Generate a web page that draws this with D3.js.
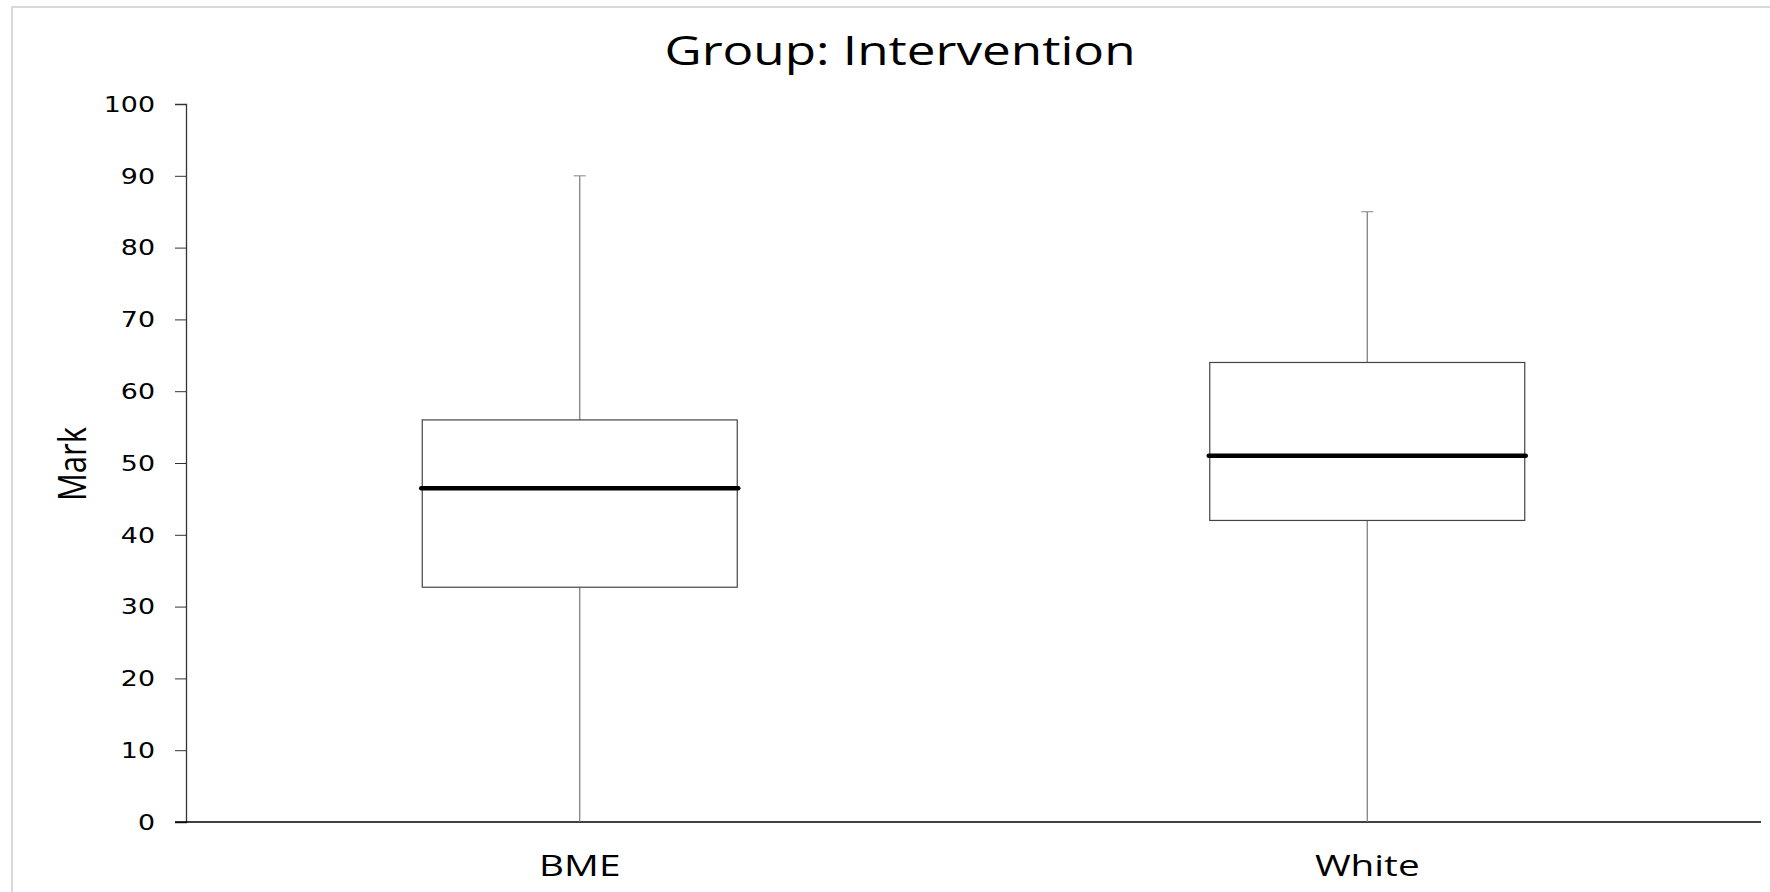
<!DOCTYPE html>
<html>
<head>
<meta charset="utf-8">
<script src="https://cdn.jsdelivr.net/npm/d3@7"></script>
<style>
  html, body { margin: 0; padding: 0; background: #fff; overflow: hidden; }
  svg { display: block; }
</style>
</head>
<body>
<script>
// Box-plot summary per group
const categories = ["BME", "White"];
const minValues = [0, 0];
const q1Values = [32.7, 42];
const medianValues = [46.5, 51];
const q3Values = [56, 64];
const maxValues = [90, 85];
const yTicks = [0, 10, 20, 30, 40, 50, 60, 70, 80, 90, 100];

const W = 1770, H = 892;
const svg = d3.select("body").append("svg").attr("width", W).attr("height", H);

// widen text horizontally (the chart's lettering is drawn wide)
function widen(sel, k) {
  sel.each(function () {
    const len = this.getComputedTextLength();
    d3.select(this).attr("textLength", len * k).attr("lengthAdjust", "spacingAndGlyphs");
  });
}

// outer chart frame
svg.append("rect")
  .attr("x", 12).attr("y", 7).attr("width", W + 20).attr("height", H + 20)
  .attr("fill", "#fff").attr("stroke", "#d9d9d9").attr("stroke-width", 2);

const plotLeft = 186, plotRight = 1761, plotTop = 104, plotBottom = 822;

const x = d3.scaleBand().domain(categories).range([plotLeft, plotRight]);
const y = d3.scaleLinear().domain([0, 100]).range([plotBottom, plotTop]);

// title
const title = svg.append("text")
  .attr("x", 900).attr("y", 65)
  .attr("text-anchor", "middle")
  .style("font-family", "'Open Sans', 'Liberation Sans', sans-serif")
  .style("font-size", "40px")
  .attr("fill", "#000")
  .text("Group: Intervention");
widen(title, 1.28);

// y axis
const yAxis = svg.append("g")
  .attr("transform", `translate(${plotLeft},0)`)
  .call(d3.axisLeft(y).tickValues(yTicks).tickSize(11).tickPadding(20));
yAxis.select(".domain").attr("stroke", "#333").attr("stroke-width", 1.3);
yAxis.selectAll(".tick line").attr("stroke", "#333");
yAxis.selectAll(".tick text")
  .style("font-family", "'DejaVu Sans', Verdana, sans-serif")
  .style("font-size", "20.5px")
  .attr("dy", "0.36em")
  .attr("fill", "#000");
widen(yAxis.selectAll(".tick text"), 1.31);

// x axis
const xAxis = svg.append("g")
  .attr("transform", `translate(0,${plotBottom})`)
  .call(d3.axisBottom(x).tickSize(0).tickPadding(33));
xAxis.select(".domain").attr("stroke", "#000").attr("stroke-width", 1.3)
  .attr("d", `M${plotLeft - 11},0H${plotRight}`);
xAxis.selectAll(".tick text")
  .style("font-family", "'Open Sans', 'Liberation Sans', sans-serif")
  .style("font-size", "30px")
  .attr("fill", "#000");
widen(xAxis.selectAll(".tick text"), 1.29);

// y axis title
svg.append("text")
  .attr("transform", `translate(86,${(plotTop + plotBottom) / 2 + 1}) scale(1.25,1) rotate(-90)`)
  .attr("text-anchor", "middle")
  .style("font-family", "'Open Sans', 'Liberation Sans', sans-serif")
  .style("font-size", "31px")
  .attr("fill", "#000")
  .text("Mark");

// boxes
const boxW = 315, capW = 12;
const data = categories.map((c, i) => ({
  c, min: minValues[i], q1: q1Values[i], med: medianValues[i], q3: q3Values[i], max: maxValues[i]
}));
const g = svg.append("g");
data.forEach(d => {
  const cx = x(d.c) + x.bandwidth() / 2;
  // whiskers
  g.append("line").attr("x1", cx).attr("x2", cx).attr("y1", y(d.max)).attr("y2", y(d.q3))
    .attr("stroke", "#777").attr("stroke-width", 1.2);
  g.append("line").attr("x1", cx).attr("x2", cx).attr("y1", y(d.q1)).attr("y2", y(d.min))
    .attr("stroke", "#777").attr("stroke-width", 1.2);
  g.append("line").attr("x1", cx - capW / 2).attr("x2", cx + capW / 2).attr("y1", y(d.max)).attr("y2", y(d.max))
    .attr("stroke", "#999").attr("stroke-width", 1.2);
  // box
  g.append("rect")
    .attr("x", cx - boxW / 2).attr("width", boxW)
    .attr("y", y(d.q3)).attr("height", y(d.q1) - y(d.q3))
    .attr("fill", "#fff").attr("stroke", "#444").attr("stroke-width", 1.2);
  // median
  g.append("line")
    .attr("x1", cx - boxW / 2 - 1).attr("x2", cx + boxW / 2 + 1)
    .attr("y1", y(d.med)).attr("y2", y(d.med))
    .attr("stroke", "#000").attr("stroke-width", 4.5).attr("stroke-linecap", "round");
});
</script>
</body>
</html>
